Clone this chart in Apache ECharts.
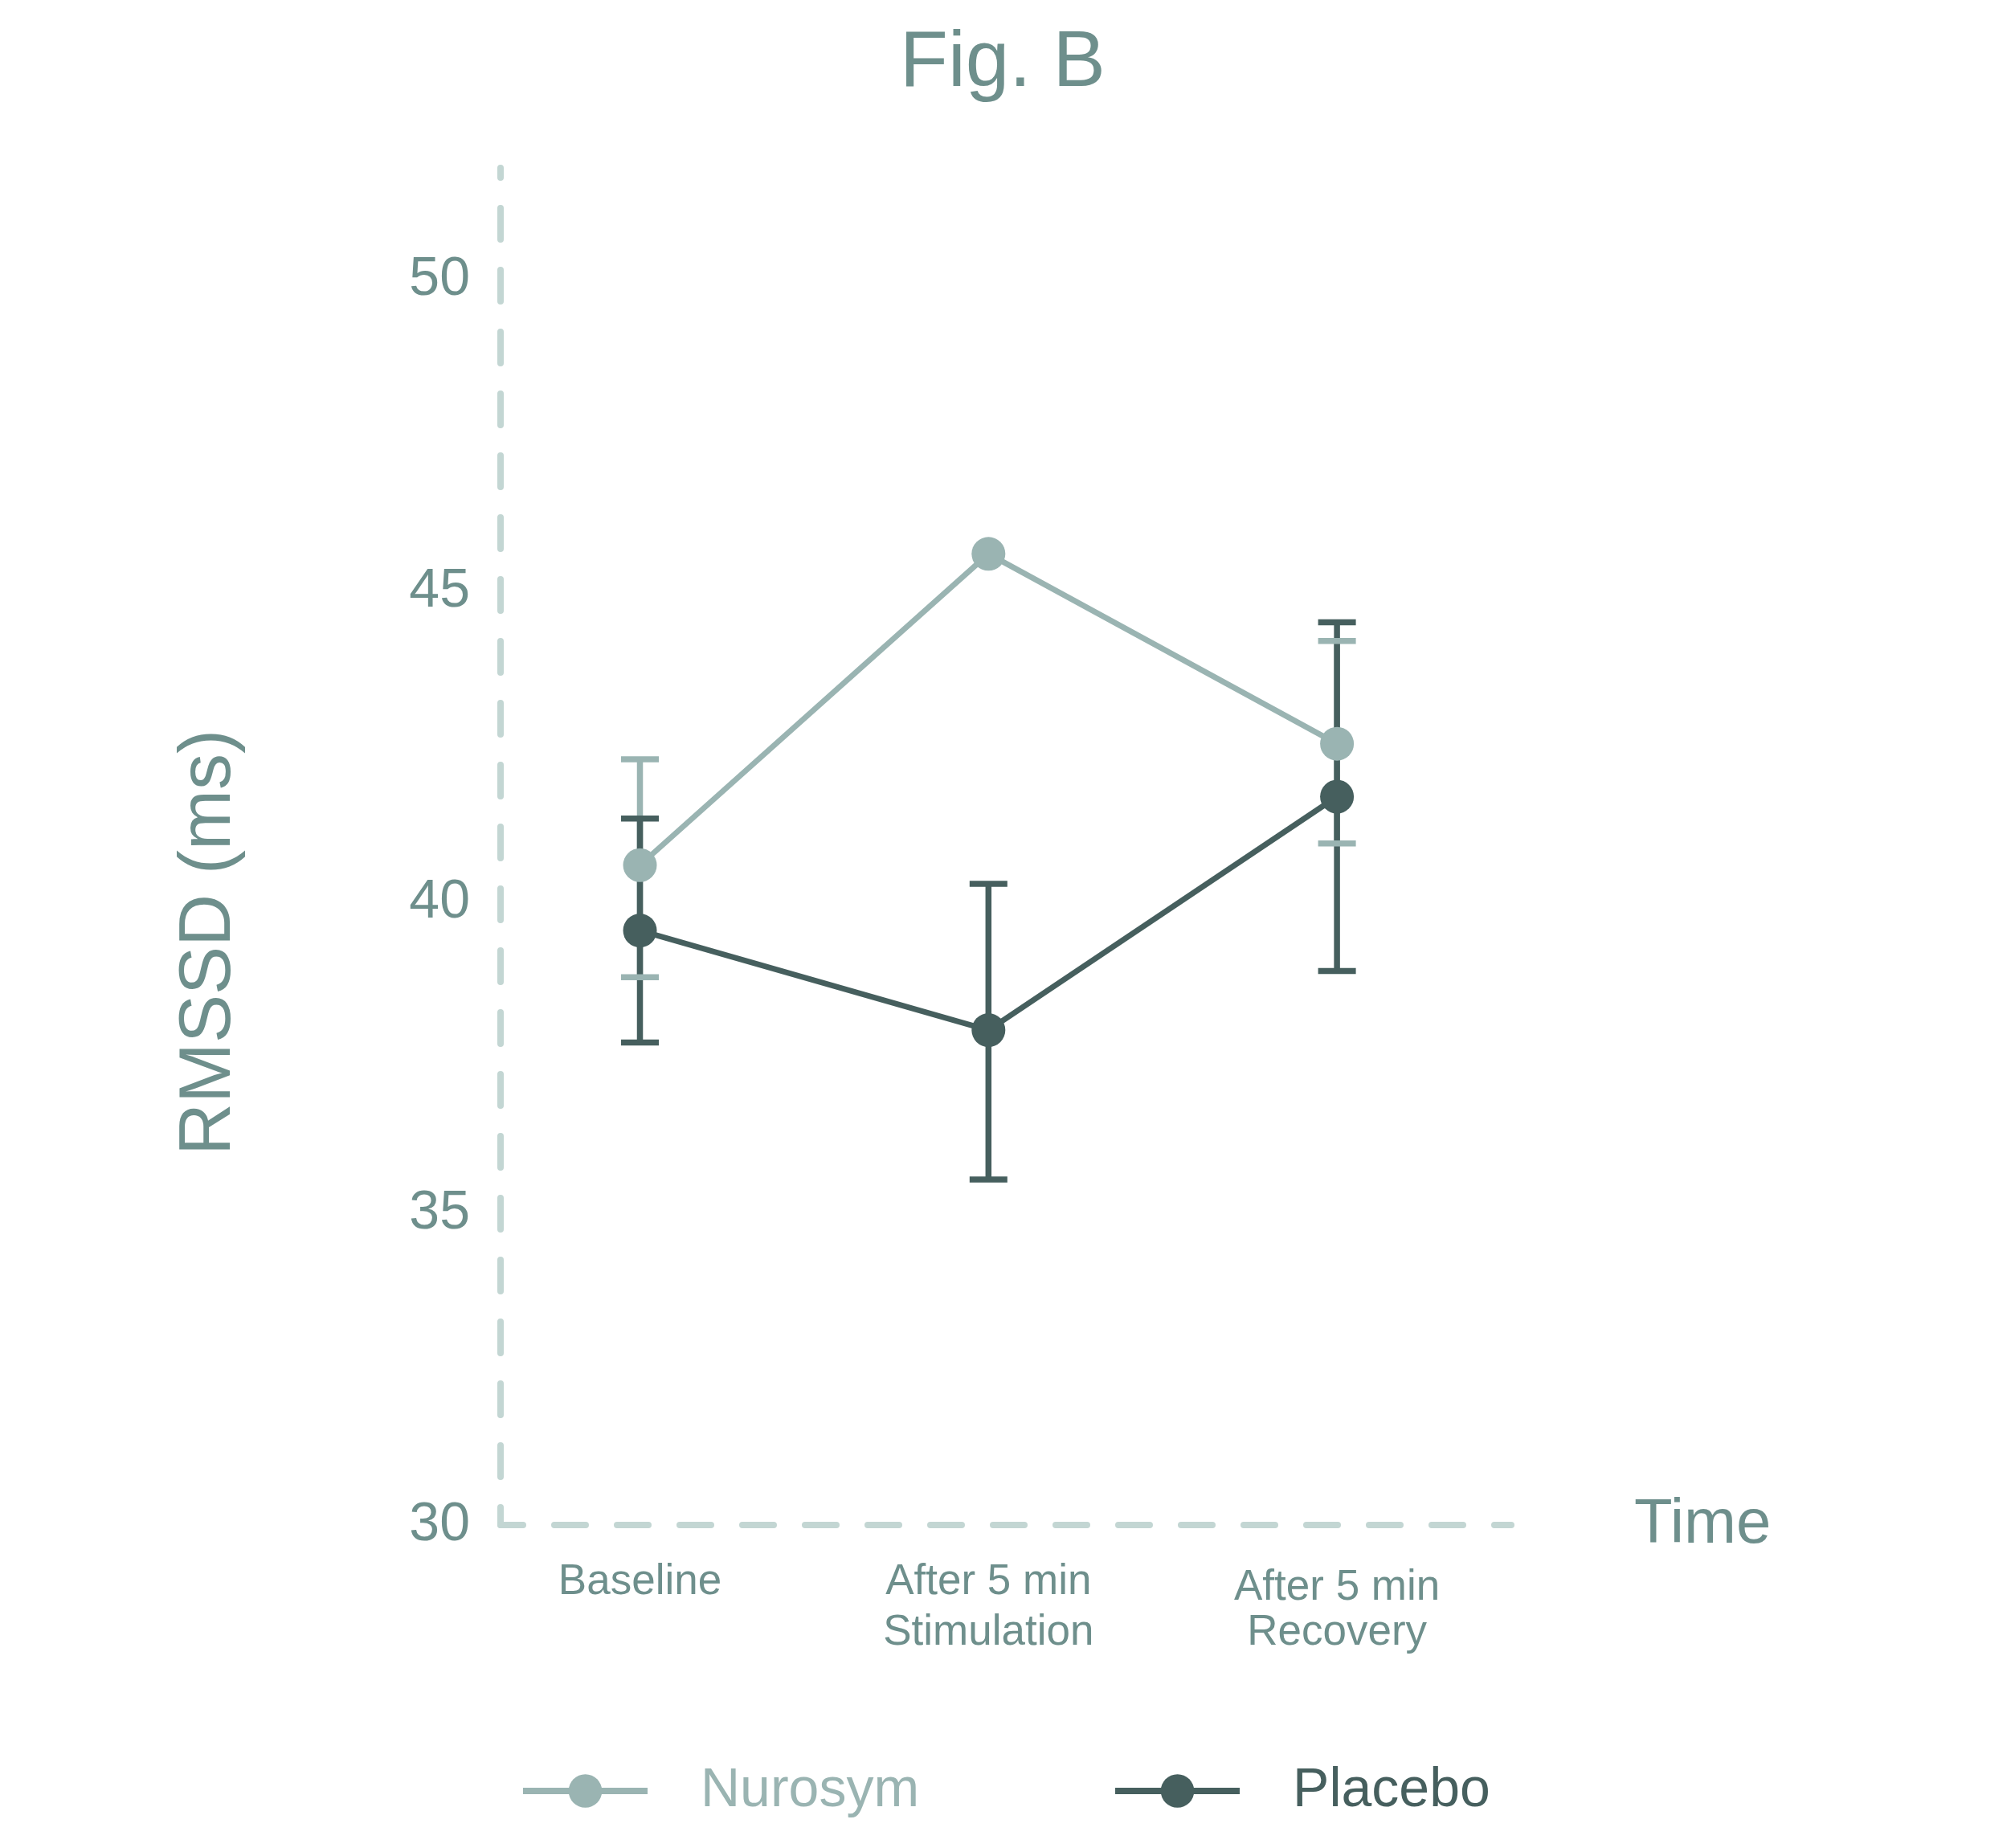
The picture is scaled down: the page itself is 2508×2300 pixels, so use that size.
<!DOCTYPE html>
<html>
<head>
<meta charset="utf-8">
<title>Fig. B</title>
<script src="https://cdn.jsdelivr.net/npm/echarts@6/dist/echarts.min.js"></script>
<style>
    html, body {
        margin: 0;
        padding: 0;
        background: #fff;
    }
    #chart {
        width: 2508px;
        height: 2300px;
    }
</style>
</head>
<body>
<div id="chart"></div>
<script>
// time points
const categories = ['Baseline', 'After 5 min\nStimulation', 'After 5 min\nRecovery']
const yTicks = [30, 35, 40, 45, 50]

// mean RMSSD (ms)
const nurosymMean = [40.6, 45.6, 42.55]
const placeboMean = [39.55, 37.95, 41.7]

// error bar ends [low, high]
const nurosymErr = [[38.8, 42.3], null, [40.95, 44.2]]
const placeboErr = [[37.75, 41.35], [35.55, 40.3], [38.9, 44.5]]

const LIGHT = '#9ab4b2'
const DARK = '#465f5e'
const AXIS = '#c3d6d3'
const TEXT = '#6e8f8c'
const FONT = '"Liberation Sans", Arial, sans-serif'

function errorBars(color) {
    return function (params, api) {
        const x = api.value(0)
        const top = api.coord([x, api.value(2)])
        const bot = api.coord([x, api.value(1)])
        const half = 23.5
        const style = {stroke: color, lineWidth: 7.5, lineCap: 'butt'}
        return {
            type: 'group',
            children: [
                {type: 'line', z2: 1, shape: {x1: top[0], y1: top[1], x2: bot[0], y2: bot[1]}, style: style},
                {type: 'line', z2: 5, shape: {x1: top[0] - half, y1: top[1], x2: top[0] + half, y2: top[1]}, style: style},
                {type: 'line', z2: 5, shape: {x1: bot[0] - half, y1: bot[1], x2: bot[0] + half, y2: bot[1]}, style: style},
            ],
        }
    }
}

function errData(list) {
    const out = []
    list.forEach((e, i) => {
        if (e) out.push([i, e[0], e[1]])
    })
    return out
}

const chart = echarts.init(document.getElementById('chart'), null, {renderer: 'canvas'})

chart.setOption({
    backgroundColor: '#fff',
    animation: false,
    title: {
        text: 'Fig. B',
        left: 1243,
        textAlign: 'center',
        top: 26,
        textStyle: {
            fontFamily: FONT,
            fontSize: 98,
            fontWeight: 'normal',
            color: TEXT,
        },
    },
    grid: {
        left: 623,
        right: 2508 - 1881,
        top: 209,
        bottom: 2300 - 1898,
        containLabel: false,
    },
    xAxis: {
        type: 'value',
        min: -0.4,
        max: 2.5,
        name: 'Time',
        nameLocation: 'end',
        nameGap: 153,
        nameTextStyle: {
            fontFamily: FONT,
            fontSize: 78,
            color: TEXT,
            verticalAlign: 'middle',
        },
        splitLine: {show: false},
        axisTick: {show: false},
        axisLine: {
            show: true,
            onZero: false,
            lineStyle: {color: AXIS, width: 8, type: [39, 39], dashOffset: 11},
        },
        axisLabel: {
            customValues: categories.map((c, i) => i),
            formatter: v => {
                const i = Math.round(v)
                const lines = categories[i].split('\n')
                if (i === 2) {
                    return '{a|' + lines[0] + '}\n{b|' + lines[1] + '}'
                }
                return categories[i]
            },
            margin: 40,
            verticalAlign: 'top',
            fontFamily: FONT,
            fontSize: 53,
            lineHeight: 63,
            color: TEXT,
            rich: {
                a: {fontFamily: FONT, fontSize: 53, lineHeight: 63, color: TEXT, padding: [14, 0, 0, 0]},
                b: {fontFamily: FONT, fontSize: 53, lineHeight: 63, color: TEXT},
            },
        },
    },
    yAxis: {
        type: 'value',
        min: yTicks[0],
        max: 51.8,
        interval: 5,
        splitLine: {show: false},
        axisTick: {show: false},
        axisLine: {
            show: true,
            onZero: false,
            lineStyle: {color: AXIS, width: 8, type: [39, 38], dashOffset: 17},
        },
        axisLabel: {
            showMaxLabel: false,
            margin: 38,
            fontFamily: FONT,
            fontSize: 68,
            color: TEXT,
        },
    },
    legend: {
        left: 642,
        top: 2190,
        itemWidth: 155,
        itemHeight: 52,
        itemGap: 240,
        lineStyle: {width: 8},
        textStyle: {
            fontFamily: FONT,
            fontSize: 68,
            padding: [0, 0, 0, 61],
        },
        data: [
            {name: 'Nurosym', textStyle: {color: LIGHT}},
            {name: 'Placebo', textStyle: {color: DARK}},
        ],
    },
    graphic: [
        {
            type: 'text',
            x: 261,
            y: 1173,
            rotation: Math.PI / 2,
            style: {
                text: 'RMSSD (ms)',
                fontFamily: FONT,
                fontSize: 90,
                fill: TEXT,
                align: 'center',
                verticalAlign: 'middle',
            },
        },
    ],
    series: [
        {
            name: 'Nurosym SE',
            type: 'custom',
            z: 2,
            renderItem: errorBars(LIGHT),
            encode: {x: 0, y: [1, 2]},
            data: errData(nurosymErr),
        },
        {
            name: 'Placebo SE',
            type: 'custom',
            z: 2,
            renderItem: errorBars(DARK),
            encode: {x: 0, y: [1, 2]},
            data: errData(placeboErr),
        },
        {
            name: 'Placebo',
            type: 'line',
            z: 3,
            symbol: 'circle',
            symbolSize: 42,
            color: DARK,
            lineStyle: {width: 7, color: DARK},
            itemStyle: {color: DARK},
            data: placeboMean.map((v, i) => [i, v]),
        },
        {
            name: 'Nurosym',
            type: 'line',
            z: 4,
            symbol: 'circle',
            symbolSize: 42,
            color: LIGHT,
            lineStyle: {width: 7, color: LIGHT},
            itemStyle: {color: LIGHT},
            data: nurosymMean.map((v, i) => [i, v]),
        },
    ],
})
</script>
</body>
</html>
